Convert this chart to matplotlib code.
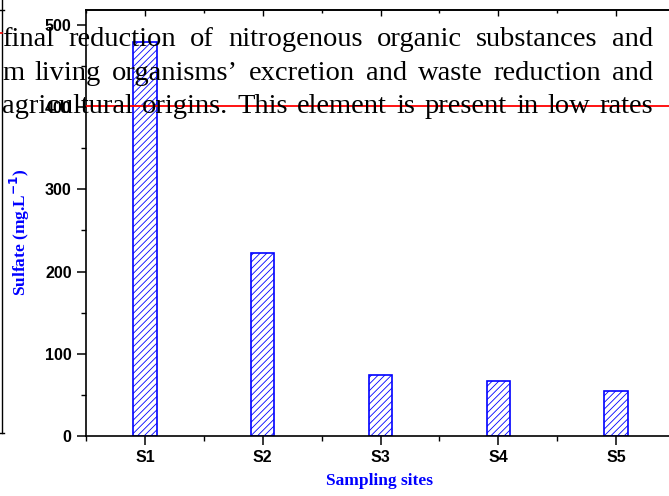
import matplotlib
matplotlib.use("Agg")
import matplotlib.pyplot as plt
from matplotlib.ticker import MultipleLocator

sites = ["S1", "S2", "S3", "S4", "S5"]
sulfate = [479, 223, 74, 67, 55]
red_level = 401

overlay_lines = [
    "final reduction of nitrogenous organic substances and",
    "m living organisms\u2019 excretion and waste reduction and",
    "agricultural origins. This element is present in low rates",
]

W, H = 669, 496
plt.rcParams['hatch.linewidth'] = 0.6
fig = plt.figure(figsize=(W / 100, H / 100), dpi=100)
ax = fig.add_axes([86 / W, 60 / H, (675 - 86) / W, (436 - 10) / H])

x = list(range(1, len(sites) + 1))
ax.bar(x, sulfate, width=0.2, color='white', edgecolor='blue',
       hatch='/////', linewidth=1.2, zorder=2)
ax.axhline(red_level, color='red', lw=1.3, zorder=3)

ax.set_xlim(0.5, 5.5)
ax.set_ylim(0, 518)
ax.set_xticks(x)
ax.set_xticklabels(sites)
ax.xaxis.set_minor_locator(MultipleLocator(0.5))
ax.yaxis.set_major_locator(MultipleLocator(100))
ax.yaxis.set_minor_locator(MultipleLocator(50))
for lab in ax.get_xticklabels() + ax.get_yticklabels():
    lab.set_fontfamily('Liberation Sans')
    lab.set_fontweight('bold')
    lab.set_fontsize(11.5)
ax.tick_params(which='major', direction='out', length=6.3, width=1.1, pad=4)
ax.tick_params(which='minor', direction='out', length=3.5, width=1.0)
for s in ax.spines.values():
    s.set_linewidth(1.2)

# inward ticks on the top edge
top = ax.secondary_xaxis('top')
top.set_xticks(x)
top.xaxis.set_minor_locator(MultipleLocator(0.5))
top.tick_params(which='major', direction='in', length=4, width=1.0, labeltop=False)
top.tick_params(which='minor', direction='in', length=2.5, width=1.0)
top.spines['top'].set_linewidth(1.2)

fig.text(20 / W, 1 - 232 / H, "Sulfate (mg.L$^{\\mathbf{-1}}$)", rotation=90,
         color='blue', family='Liberation Serif', weight='bold', fontsize=12.5,
         ha='center', va='center')
fig.text(380 / W, 1 - 481 / H, "Sampling sites", color='blue',
         family='Liberation Serif', weight='bold', fontsize=12.5,
         ha='center', va='center')

# stray edge of a neighbouring figure
edge = dict(transform=fig.transFigure, color='black', lw=1.0)
fig.add_artist(plt.Line2D([2 / W, 2 / W], [1, 1 - 433 / H], **edge))
fig.add_artist(plt.Line2D([0, 4 / W], [1 - 10 / H, 1 - 10 / H], **edge))
fig.add_artist(plt.Line2D([0, 4 / W], [1 - 433 / H, 1 - 433 / H], **edge))
fig.add_artist(plt.Line2D([0, 2 / W], [1 - 33 / H, 1 - 33 / H],
                          transform=fig.transFigure, color='red', lw=1.2))

# justified paragraph text laid over the chart
baselines = [46, 80, 113]
left_px, right_px = 2, 653
renderer = fig.canvas.get_renderer()
for line, base in zip(overlay_lines, baselines):
    words = line.split()
    arts = [fig.text(0, 1 - base / H, w, family='Liberation Serif',
                     fontsize=20.5, color='black', va='baseline', zorder=5)
            for w in words]
    widths = [a.get_window_extent(renderer).width for a in arts]
    gap = (right_px - left_px - sum(widths)) / (len(words) - 1)
    pos = left_px
    for a, wd in zip(arts, widths):
        a.set_x(pos / W)
        pos += wd + gap

fig.savefig("out.png", dpi=100)
